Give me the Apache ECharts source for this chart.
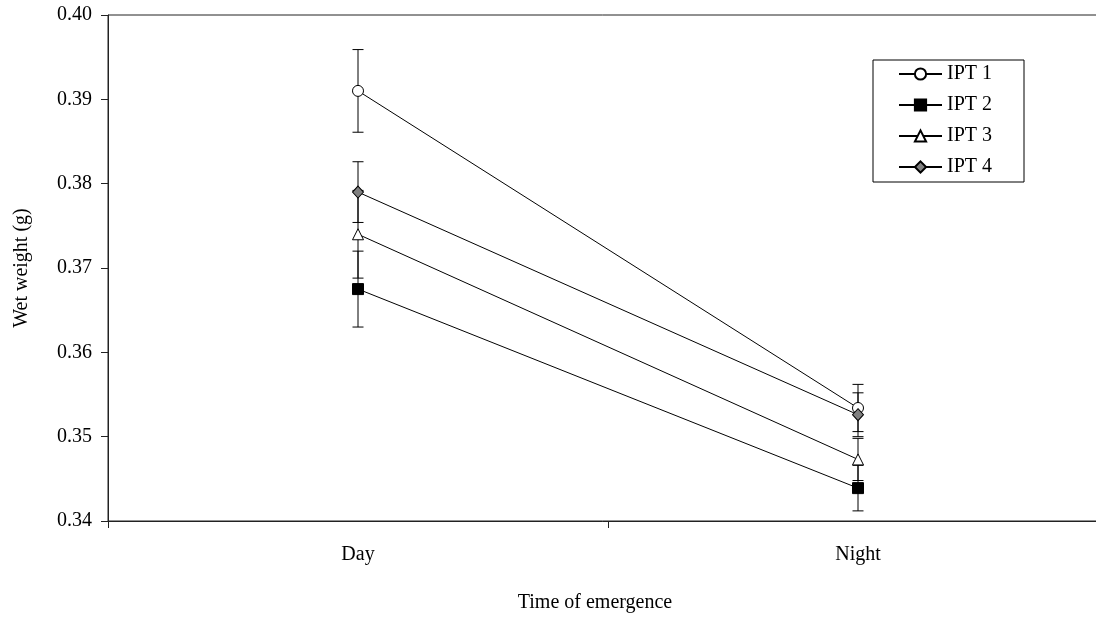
<!DOCTYPE html>
<html>
<head>
<meta charset="utf-8">
<script src="https://cdn.jsdelivr.net/npm/echarts@6/dist/echarts.min.js"></script>
<style>
  html, body { margin: 0; padding: 0; background: #fff; }
  #chart { width: 1096px; height: 622px; }
</style>
</head>
<body>
<div id="chart"></div>
<script>
'use strict';

// categories and values
var categories = ['Day', 'Night'];
var seriesNames = ['IPT 1', 'IPT 2', 'IPT 3', 'IPT 4'];

var ipt1 = [0.3910, 0.3534];
var ipt2 = [0.3675, 0.3439];
var ipt3 = [0.3740, 0.3473];
var ipt4 = [0.3790, 0.3526];

// half-length of the error bars
var ipt1Err = [0.0049, 0.0028];
var ipt2Err = [0.0045, 0.0027];
var ipt3Err = [0.0052, 0.0025];
var ipt4Err = [0.0036, 0.0026];

var values = [ipt1, ipt2, ipt3, ipt4];
var errors = [ipt1Err, ipt2Err, ipt3Err, ipt4Err];

var FONT = 'Liberation Serif';

var symbols = [
    {symbol: 'circle', size: 11, color: '#fff'},
    {symbol: 'rect', size: 11, color: '#000'},
    {symbol: 'triangle', size: 11, color: '#fff'},
    {symbol: 'diamond', size: [11, 12], color: '#808080'}
];

var myChart = echarts.init(document.getElementById('chart'), null, {renderer: 'canvas'});

// error bar data: [category index, low, high]
var errData = [];
values.forEach(function (vals, i) {
    vals.forEach(function (v, j) {
        errData.push([j, v - errors[i][j], v + errors[i][j]]);
    });
});

var series = [{
    type: 'custom',
    z: 1,
    silent: true,
    renderItem: function (params, api) {
        var x = api.value(0);
        var lo = api.coord([x, api.value(1)]);
        var hi = api.coord([x, api.value(2)]);
        var w = 5.5;
        var style = {stroke: '#000', lineWidth: 1, fill: null};
        return {
            type: 'group',
            children: [
                {type: 'line', shape: {x1: lo[0], y1: lo[1], x2: hi[0], y2: hi[1]}, style: style},
                {type: 'line', shape: {x1: lo[0] - w, y1: lo[1], x2: lo[0] + w, y2: lo[1]}, style: style},
                {type: 'line', shape: {x1: hi[0] - w, y1: hi[1], x2: hi[0] + w, y2: hi[1]}, style: style}
            ]
        };
    },
    encode: {x: 0, y: [1, 2]},
    data: errData
}];

seriesNames.forEach(function (name, i) {
    series.push({
        type: 'line',
        name: name,
        z: 3,
        data: values[i],
        symbol: symbols[i].symbol,
        symbolSize: symbols[i].size,
        showAllSymbol: true,
        lineStyle: {color: '#000', width: 1},
        itemStyle: {color: symbols[i].color, borderColor: '#000', borderWidth: 1, opacity: 1},
        emphasis: {disabled: true}
    });
});

var option = {
    animation: false,
    backgroundColor: '#fff',
    textStyle: {fontFamily: FONT},
    grid: {
        left: 108,
        right: -12,
        top: 15,
        bottom: 101,
        show: true,
        borderColor: '#222',
        borderWidth: 1,
        backgroundColor: 'transparent',
        outerBoundsMode: 'none'
    },
    legend: {
        orient: 'vertical',
        left: 873,
        top: 60,
        padding: [4, 32, 5, 25],
        itemWidth: 43,
        itemHeight: 14,
        itemGap: 11,
        borderColor: '#000',
        borderWidth: 1,
        backgroundColor: '#fff',
        data: seriesNames,
        textStyle: {fontFamily: FONT, fontSize: 20, color: '#000'}
    },
    xAxis: {
        type: 'category',
        data: categories,
        boundaryGap: true,
        name: 'Time of emergence',
        nameLocation: 'middle',
        nameGap: 72,
        nameTextStyle: {fontFamily: FONT, fontSize: 20, color: '#000', padding: [0, 26, 0, 0]},
        axisLine: {lineStyle: {color: '#222', width: 1}},
        axisTick: {show: true, length: 7, lineStyle: {color: '#222'}},
        axisLabel: {fontFamily: FONT, fontSize: 20, color: '#000', margin: 24},
        splitLine: {show: false}
    },
    yAxis: {
        type: 'value',
        min: 0.34,
        max: 0.40,
        interval: 0.01,
        name: 'Wet weight (g)',
        nameLocation: 'middle',
        nameGap: 76,
        nameTextStyle: {fontFamily: FONT, fontSize: 20, color: '#000'},
        axisLine: {show: true, lineStyle: {color: '#222', width: 1}},
        axisTick: {show: true, length: 7, lineStyle: {color: '#222'}},
        axisLabel: {
            fontFamily: FONT, fontSize: 20, color: '#000', margin: 16,
            formatter: function (v) { return v.toFixed(2); }
        },
        splitLine: {show: false}
    },
    series: series
};

myChart.setOption(option);
</script>
</body>
</html>
